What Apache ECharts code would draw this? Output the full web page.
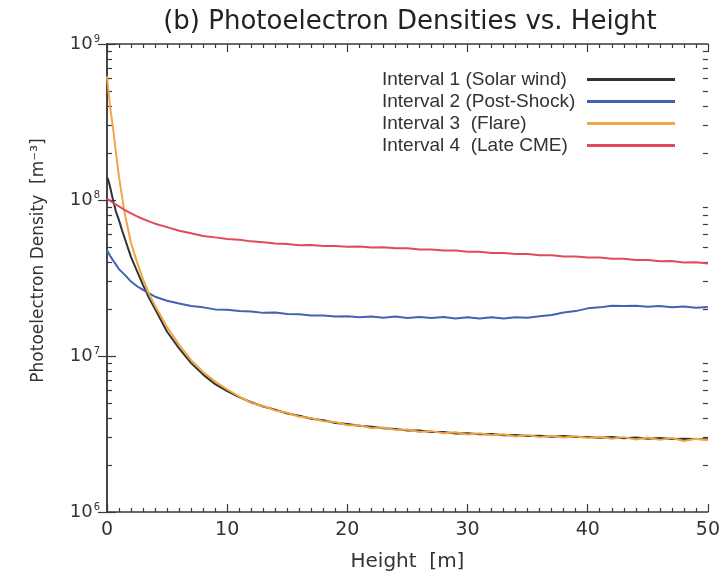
<!DOCTYPE html>
<html>
<head>
<meta charset="utf-8">
<script src="https://cdn.jsdelivr.net/npm/echarts@6/dist/echarts.min.js"></script>
<style>html,body{margin:0;padding:0;background:#fff}#c{width:723px;height:577px}</style>
</head>
<body>
<div id="c"></div>
<script>
// Height [m]
const heights = [0,0.1,0.25,0.5,0.75,1,1.25,1.5,2,2.5,3,3.5,4,
  5,6,7,8,9,10,11,12,13,14,15,16,17,18,19,20,
  21,22,23,24,25,26,27,28,29,30,31,32,33,34,35,36,37,38,39,40,
  41,42,43,44,45,46,47,48,49,50];
// Photoelectron density in units of 1e6 m^-3
const interval1 = [140,135,122,100,84,74,64,56,43,35,28.5,23.5,20,
  14.3,11.2,9.0,7.6,6.6,5.95,5.45,5.05,4.75,4.52,4.28,4.14,3.96,3.88,3.72,3.67,
  3.57,3.52,3.44,3.41,3.33,3.33,3.26,3.26,3.19,3.2,3.15,3.16,3.11,3.12,3.07,3.08,3.04,3.07,3.02,3.03,
  2.99,3.02,2.97,3.0,2.95,2.98,2.94,2.95,2.94,2.93];
const interval2 = [48,46,44,41,38.5,36,34.5,33,30,28,26.5,25.2,24,
  22.6,21.7,20.9,20.5,19.9,19.8,19.4,19.3,18.9,19.0,18.6,18.5,18.2,18.2,17.9,18.0,
  17.7,17.9,17.6,17.9,17.5,17.8,17.5,17.8,17.4,17.7,17.4,17.7,17.4,17.7,17.6,18.0,18.3,19.0,19.4,20.2,
  20.5,21.0,20.9,21.0,20.7,20.9,20.5,20.8,20.4,20.6];
const interval3 = [620,520,400,290,200,140,105,80,53,40,31,25,21,
  15.3,11.8,9.4,7.9,6.85,6.1,5.5,5.0,4.78,4.48,4.33,4.08,4.0,3.82,3.78,3.6,
  3.6,3.44,3.48,3.36,3.38,3.26,3.3,3.2,3.24,3.14,3.2,3.1,3.15,3.05,3.12,3.02,3.08,3.0,3.06,2.98,
  3.04,2.95,3.02,2.92,3.0,2.9,2.98,2.85,2.95,2.88];
const interval4 = [102,101,99,96,93.5,91,88.5,86,82,78.5,75.5,73,70.5,
  67,63.5,61.2,58.8,57.6,56.3,55.6,54.3,53.6,52.6,52.3,51.3,51.4,50.8,50.8,50.2,
  50.4,49.6,49.8,49.0,49.0,48.2,48.2,47.4,47.4,46.6,46.6,45.8,45.8,45.0,45.0,44.3,44.3,43.5,43.5,42.8,
  42.8,42.0,42.0,41.3,41.3,40.5,40.6,39.8,39.9,39.2];
const seriesNames = ['Interval 1 (Solar wind)','Interval 2 (Post-Shock)','Interval 3  (Flare)','Interval 4  (Late CME)'];
const seriesColors = ['#2c3731','#4262b2','#f2a544','#e24a5c'];
const xTicks = [0,10,20,30,40,50];
const yMajor = [1e6,1e7,1e8,1e9];
const yMinor = [2e6,3e6,4e6,5e6,6e6,7e6,8e6,9e6,2e7,3e7,4e7,5e7,6e7,7e7,8e7,9e7,2e8,3e8,4e8,5e8,6e8,7e8,8e8,9e8];

const allData = [interval1, interval2, interval3, interval4];
const chart = echarts.init(document.getElementById('c'), null, {renderer:'canvas'});
const frame = '#3a3a3a';
const txt = '#333';
const yAxisBase = {type:'log', min:1e6, max:1e9, logBase:10};
const option = {
  backgroundColor:'#fff',
  animation:false,
  title:{text:'(b) Photoelectron Densities vs. Height', left:405, top:4, textAlign:'center',
    textStyle:{fontFamily:'DejaVu Sans', fontWeight:'normal', fontSize:26, color:'#222'}},
  grid:{left:107, right:15, top:44, bottom:63},
  legend:{orient:'vertical', left:377, top:65, align:'right', itemWidth:88, itemHeight:3, itemGap:3,
    icon:'rect', data:seriesNames,
    formatter: n => '{a|' + n + '}',
    textStyle:{color:txt, fontFamily:'Liberation Sans', fontSize:19,
      rich:{a:{width:200, align:'left', fontFamily:'Liberation Sans', fontSize:19, color:txt, height:22}}}},
  xAxis:[
    {type:'value', min:0, max:50, interval:10, position:'bottom',
     name:'Height  [m]', nameLocation:'middle', nameGap:40,
     nameTextStyle:{fontFamily:'DejaVu Sans', fontSize:20, color:txt},
     axisLine:{show:true, lineStyle:{color:frame, width:1.5}},
     axisTick:{show:true, inside:true, length:8, lineStyle:{color:frame, width:1.2}},
     minorTick:{show:true, splitNumber:10, length:4, lineStyle:{color:frame, width:1.2}},
     axisLabel:{fontFamily:'DejaVu Sans', fontSize:19, color:txt, margin:9},
     splitLine:{show:false}},
    {type:'value', min:0, max:50, interval:10, position:'top',
     axisLine:{show:true, onZero:false, lineStyle:{color:frame, width:1.5}},
     axisTick:{show:true, inside:true, length:8, lineStyle:{color:frame, width:1.2}},
     minorTick:{show:true, splitNumber:10, length:4, lineStyle:{color:frame, width:1.2}},
     axisLabel:{show:false}, splitLine:{show:false}}
  ],
  yAxis:[
    Object.assign({}, yAxisBase, {position:'left',
     name:'Photoelectron Density  [m⁻³]', nameLocation:'middle', nameGap:60,
     nameTextStyle:{fontFamily:'DejaVu Sans', fontSize:17, color:txt, padding:[0,0,0,35]},
     axisLine:{show:true, lineStyle:{color:frame, width:1.5}},
     axisTick:{show:true, inside:true, length:9, customValues:yMajor, lineStyle:{color:frame, width:1.2}},
     axisLabel:{customValues:yMajor, margin:7,
       formatter: v => '{b|10}{s|' + Math.round(Math.log10(v)) + '}',
       rich:{b:{fontFamily:'DejaVu Sans', fontSize:18, color:txt},
             s:{fontFamily:'DejaVu Sans', fontSize:10, color:txt, verticalAlign:'bottom', padding:[0,0,10,1]}}},
     splitLine:{show:false}}),
    Object.assign({}, yAxisBase, {position:'right',
     axisLine:{show:true, lineStyle:{color:frame, width:1.5}},
     axisTick:{show:true, inside:true, length:9, customValues:yMajor, lineStyle:{color:frame, width:1.2}},
     axisLabel:{show:false}, splitLine:{show:false}}),
    Object.assign({}, yAxisBase, {position:'left', offset:0,
     axisLine:{show:false},
     axisTick:{show:true, inside:true, length:5, customValues:yMinor, lineStyle:{color:frame, width:1.2}},
     axisLabel:{show:false}, splitLine:{show:false}}),
    Object.assign({}, yAxisBase, {position:'right', offset:0,
     axisLine:{show:false},
     axisTick:{show:true, inside:true, length:5, customValues:yMinor, lineStyle:{color:frame, width:1.2}},
     axisLabel:{show:false}, splitLine:{show:false}})
  ],
  series: seriesNames.map((n,i) => ({
    name:n, type:'line', xAxisIndex:0, yAxisIndex:0, showSymbol:false, symbol:'none',
    color:seriesColors[i],
    lineStyle:{color:seriesColors[i], width:2},
    data: heights.map((h,k) => [h, allData[i][k]*1e6])
  }))
};
chart.setOption(option);
</script>
</body>
</html>
